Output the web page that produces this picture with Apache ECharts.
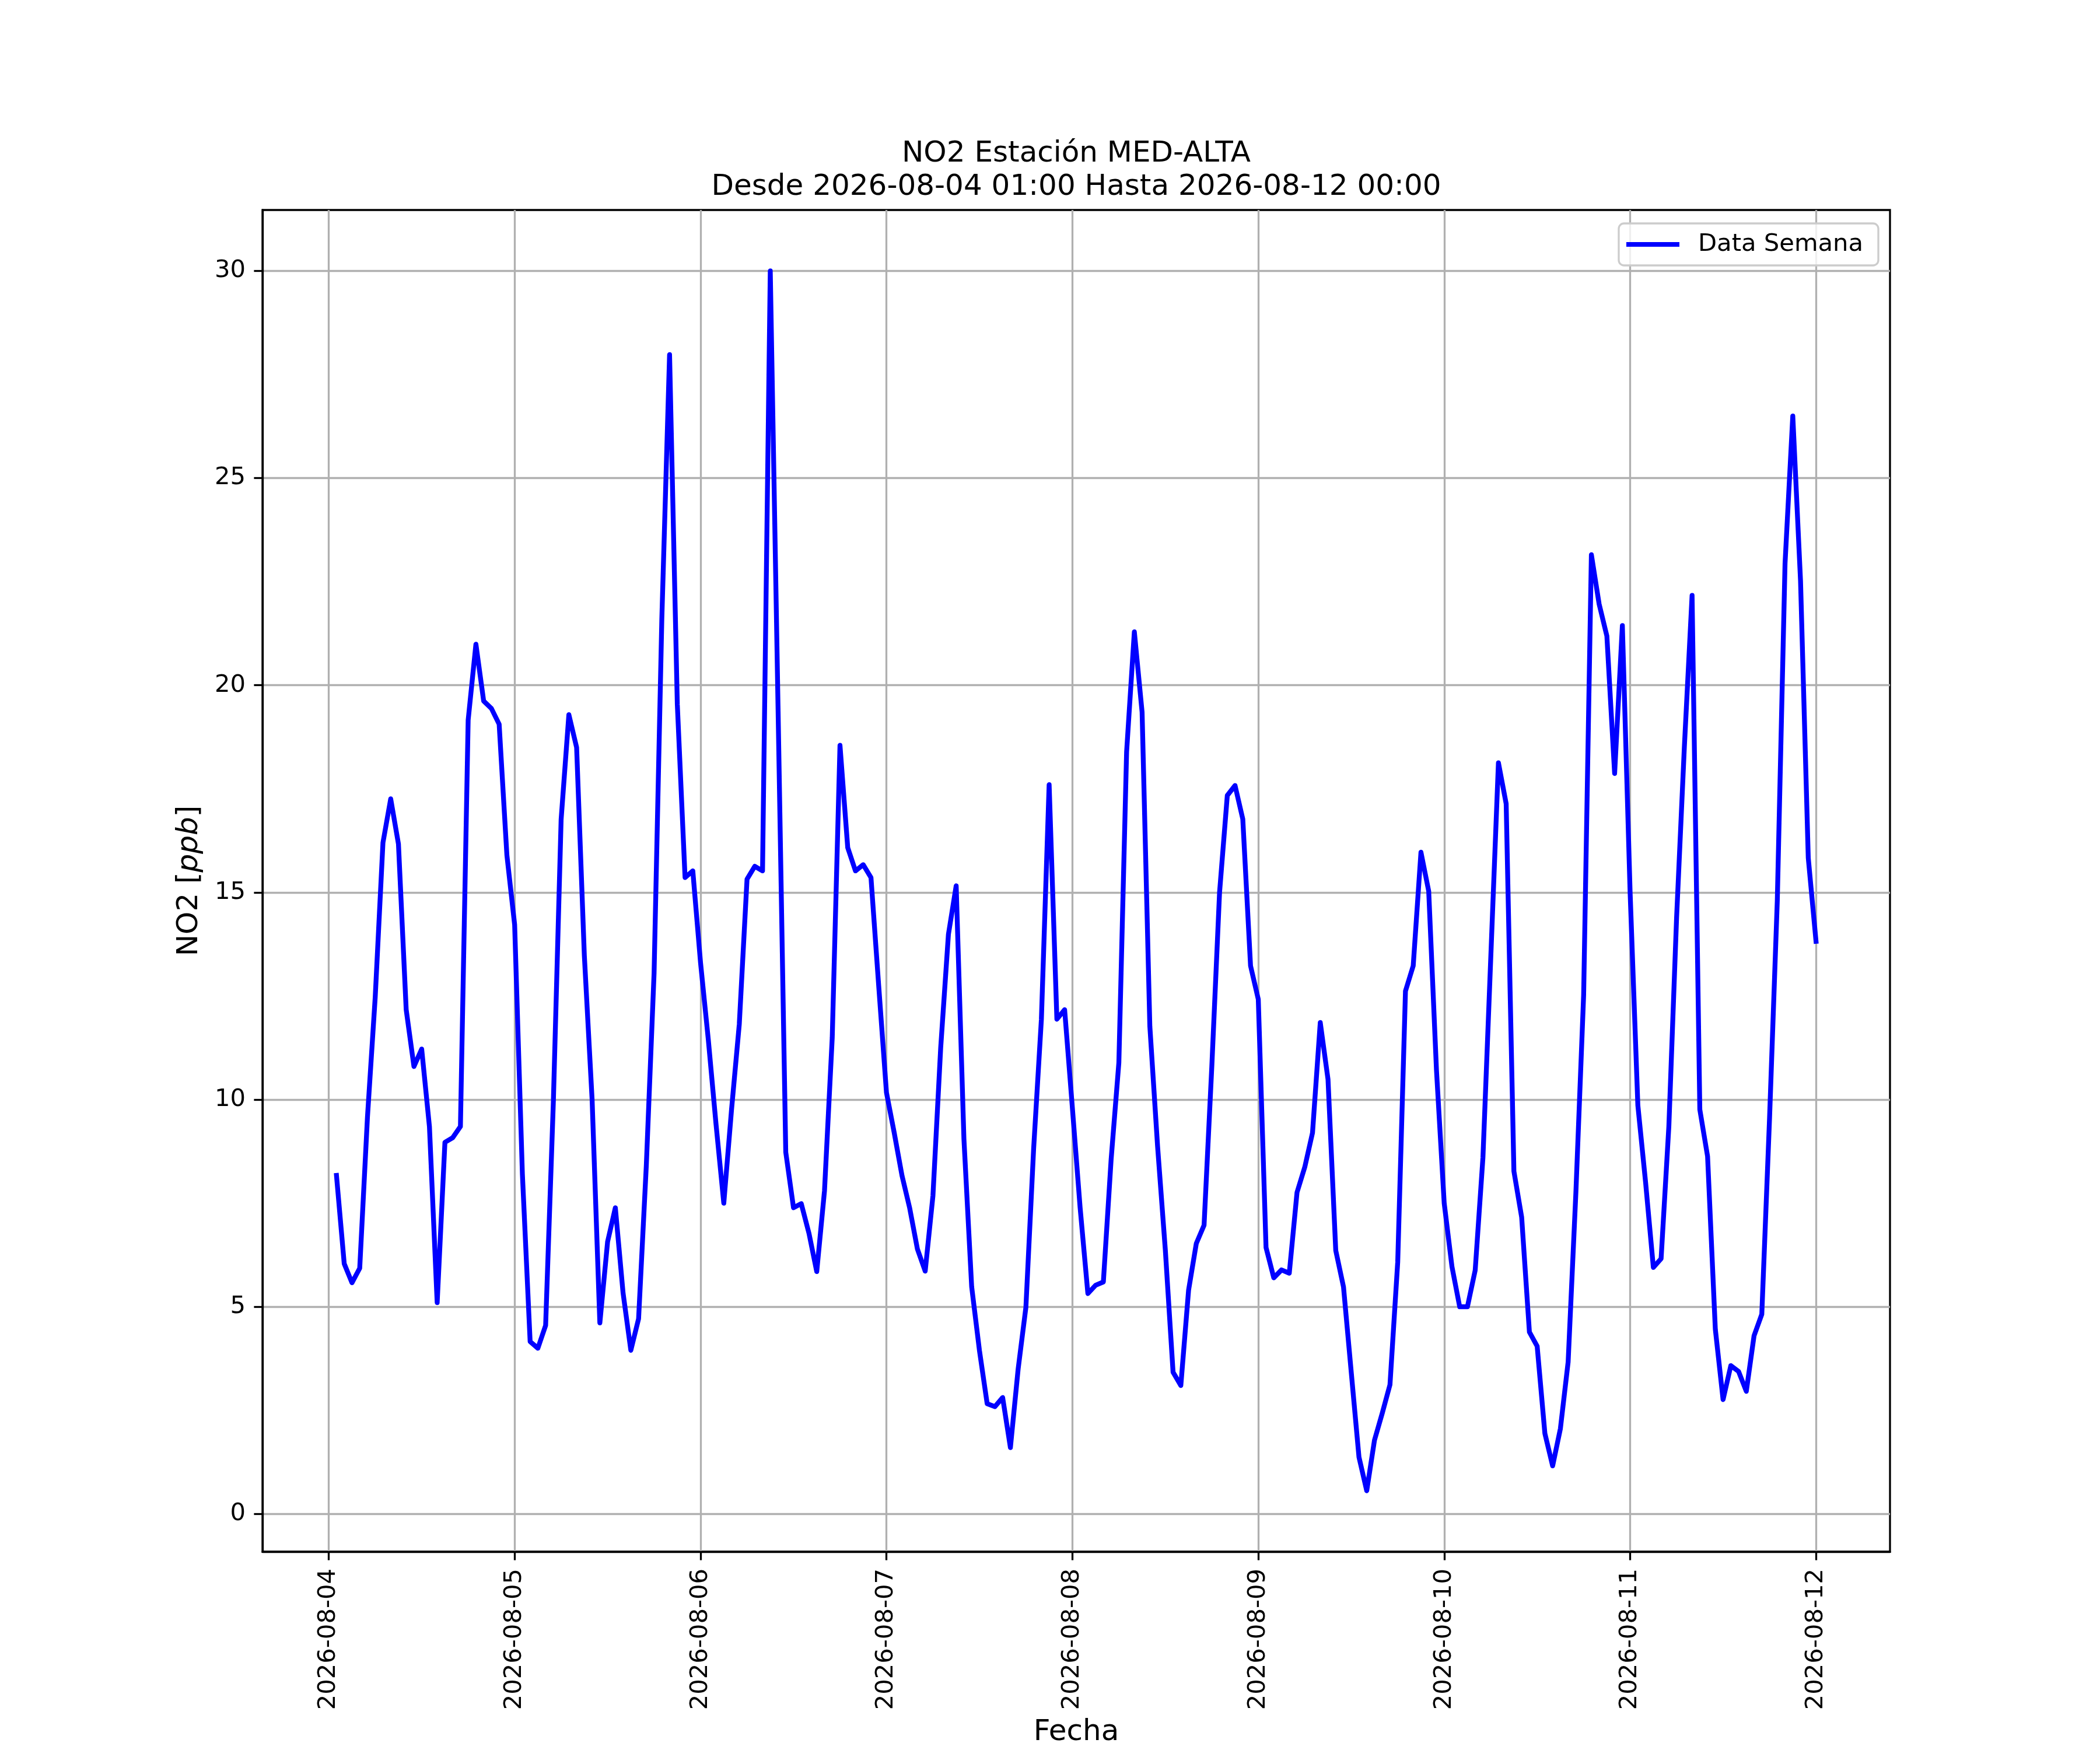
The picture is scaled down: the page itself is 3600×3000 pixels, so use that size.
<!DOCTYPE html>
<html>
<head>
<meta charset="utf-8">
<script src="https://cdn.jsdelivr.net/npm/echarts@6/dist/echarts.min.js"></script>
<style>
  html, body { margin: 0; padding: 0; background: #fff; }
  #main { width: 3600px; height: 3000px; }
</style>
</head>
<body>
<div id="main"></div>
<script>
    // hourly NO2 [ppb], 2026-08-04 01:00 .. 2026-08-12 00:00, one array per day (01:00 .. 00:00)
    var day1 = [8.17, 6.04, 5.58, 5.93, 9.58, 12.47, 16.2, 17.26, 16.17, 12.17, 10.8, 11.22,
                9.35, 5.1, 8.97, 9.08, 9.35, 19.16, 20.99, 19.62, 19.44, 19.06, 15.9, 14.22];
    var day2 = [8.2, 4.16, 4.0, 4.55, 9.96, 16.76, 19.29, 18.5, 13.47, 10.0, 4.61, 6.57,
                7.39, 5.33, 3.95, 4.71, 8.42, 13.05, 21.6, 27.98, 19.54, 15.36, 15.52, 13.3];
    var day3 = [11.45, 9.4, 7.5, 9.76, 11.82, 15.32, 15.63, 15.52, 30.0, 19.5, 8.73, 7.39,
                7.49, 6.77, 5.85, 7.8, 11.5, 18.55, 16.08, 15.52, 15.67, 15.36, 12.74, 10.17];
    var day4 = [9.2, 8.17, 7.38, 6.39, 5.86, 7.68, 11.25, 13.99, 15.16, 9.05, 5.48, 3.95,
                2.66, 2.59, 2.81, 1.6, 3.5, 4.99, 8.82, 11.94, 17.6, 11.94, 12.17, 9.8];
    var day5 = [7.39, 5.32, 5.52, 5.6, 8.55, 10.89, 18.39, 21.29, 19.35, 11.77, 8.87, 6.37,
                3.42, 3.1, 5.4, 6.53, 6.97, 10.8, 15.0, 17.34, 17.58, 16.77, 13.23, 12.42];
    var day6 = [6.43, 5.7, 5.89, 5.81, 7.76, 8.37, 9.2, 11.86, 10.49, 6.36, 5.48, 3.42,
                1.37, 0.56, 1.78, 2.43, 3.12, 6.08, 12.62, 13.23, 15.97, 15.03, 10.72, 7.5];
    var day7 = [5.97, 5.0, 5.0, 5.88, 8.6, 13.37, 18.13, 17.14, 8.27, 7.16, 4.39, 4.05,
                1.94, 1.16, 2.06, 3.67, 7.76, 12.52, 23.15, 21.96, 21.19, 17.87, 21.44, 15.0];
    var day8 = [9.86, 8.0, 5.95, 6.16, 9.35, 14.39, 18.5, 22.17, 9.76, 8.63, 4.46, 2.76,
                3.58, 3.44, 2.96, 4.3, 4.82, 9.55, 14.8, 22.94, 26.5, 22.52, 15.83, 13.82];

    // x axis is hours since 2026-08-04 00:00; one tick per midnight
    var xTickLabels = ['2026-08-04', '2026-08-05', '2026-08-06', '2026-08-07', '2026-08-08',
                       '2026-08-09', '2026-08-10', '2026-08-11', '2026-08-12'];
    var yTickValues = [0, 5, 10, 15, 20, 25, 30];

    var values = [].concat(day1, day2, day3, day4, day5, day6, day7, day8);
    var seriesData = values.map(function (v, i) {
        return [i + 1, v];
    });
    var xTicks = xTickLabels.map(function (s, i) {
        return i * 24;
    });

    var FONT = 'DejaVu Sans';
    var chartDom = document.getElementById('main');
    var myChart = echarts.init(chartDom, null, { renderer: 'canvas', devicePixelRatio: 1 });
    var option;

    option = {
        animation: false,
        backgroundColor: '#ffffff',
        textStyle: { fontFamily: FONT },
        graphic: [
            {
                type: 'text',
                x: 1845,
                y: 236,
                style: {
                    text: 'NO2 Estación MED-ALTA\nDesde 2026-08-04 01:00 Hasta 2026-08-12 00:00',
                    fontSize: 50,
                    fontFamily: FONT,
                    lineHeight: 57,
                    fill: '#000',
                    align: 'center',
                    verticalAlign: 'top'
                }
            }
        ],
        legend: {
            top: 383,
            right: 380,
            padding: [15, 26, 15, 13],
            icon: 'rect',
            itemWidth: 91,
            itemHeight: 8,
            backgroundColor: 'rgba(255,255,255,0.8)',
            borderColor: '#cccccc',
            borderWidth: 3.3,
            borderRadius: 9,
            textStyle: {
                fontSize: 41.7,
                fontFamily: FONT,
                color: '#000',
                padding: [0, 0, 0, 27]
            },
            data: ['Data Semana']
        },
        grid: {
            left: 450,
            top: 360,
            width: 2790,
            height: 2310,
            show: true,
            borderColor: '#000',
            borderWidth: 3.3,
            backgroundColor: '#fff',
            containLabel: false
        },
        xAxis: {
            type: 'value',
            min: -8.55,
            max: 201.55,
            name: 'Fecha',
            nameLocation: 'middle',
            nameGap: 285,
            nameTextStyle: { fontSize: 50, fontFamily: FONT, color: '#000' },
            axisLine: { show: true, onZero: false, lineStyle: { color: '#000', width: 3.3 } },
            axisTick: {
                show: true,
                length: 14.6,
                customValues: xTicks,
                lineStyle: { color: '#000', width: 3.3 }
            },
            axisLabel: {
                customValues: xTicks,
                rotate: 90,
                margin: 29,
                fontSize: 41.7,
                fontFamily: FONT,
                color: '#000',
                hideOverlap: false,
                formatter: function (v) {
                    return xTickLabels[Math.round(v / 24)];
                }
            },
            splitLine: { show: true, lineStyle: { color: '#b0b0b0', width: 3.3 } }
        },
        yAxis: {
            type: 'value',
            min: -0.91,
            max: 31.47,
            name: '{n|NO2 [}{i|ppb}{n|]}',
            nameLocation: 'middle',
            nameGap: 100,
            nameTextStyle: {
                rich: {
                    n: { fontSize: 50, fontFamily: FONT, color: '#000' },
                    i: { fontSize: 50, fontFamily: FONT, fontStyle: 'italic', color: '#000' }
                }
            },
            axisLine: { show: true, onZero: false, lineStyle: { color: '#000', width: 3.3 } },
            axisTick: {
                show: true,
                length: 14.6,
                customValues: yTickValues,
                lineStyle: { color: '#000', width: 3.3 }
            },
            axisLabel: {
                customValues: yTickValues,
                margin: 29,
                fontSize: 41.7,
                fontFamily: FONT,
                color: '#000'
            },
            splitLine: { show: true, lineStyle: { color: '#b0b0b0', width: 3.3 } }
        },
        series: [
            {
                name: 'Data Semana',
                type: 'line',
                data: seriesData,
                showSymbol: false,
                symbol: 'none',
                itemStyle: { color: '#0000ff' },
                lineStyle: { color: '#0000ff', width: 8.3, join: 'round', cap: 'square' }
            }
        ]
    };

    option && myChart.setOption(option);
</script>
</body>
</html>
